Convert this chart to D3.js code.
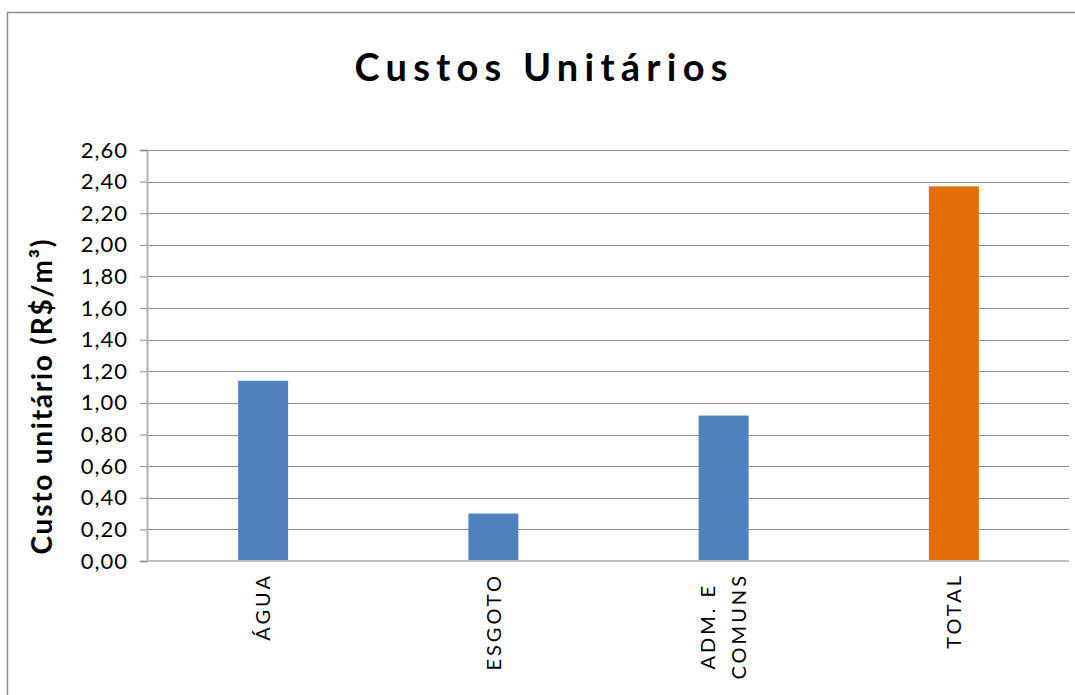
<!DOCTYPE html>
<html>
<head>
<meta charset="utf-8">
<script src="https://cdn.jsdelivr.net/npm/d3@7"></script>
<style>
  body { margin: 0; background: #fff; }
  svg { display: block; }
  text { font-family: Lato, "Open Sans", sans-serif; fill: #000; }
</style>
</head>
<body>
<div id="chart"></div>
<script>
// data
var categories = ['ÁGUA', 'ESGOTO', 'ADM. E\nCOMUNS', 'TOTAL'];
var values = [1.14, 0.30, 0.92, 2.37];
var yTicks = [0, 0.2, 0.4, 0.6, 0.8, 1.0, 1.2, 1.4, 1.6, 1.8, 2.0, 2.2, 2.4, 2.6];
var chartTitle = 'Custos Unitários';
var yTitle = 'Custo unitário (R$/m³)';

var svgWidth = 1075, svgHeight = 695;
var plot = {left: 148, right: 1069, top: 150, bottom: 561};

var ptBR = d3.formatLocale({decimal: ',', thousands: '.', grouping: [3], currency: ['R$', '']});
var fmt = ptBR.format('.2f');

var svg = d3.select('#chart').append('svg')
  .attr('width', svgWidth).attr('height', svgHeight);

// chart area border (runs off the right / bottom edge like the original)
svg.append('rect')
  .attr('x', 7.5).attr('y', 12.5)
  .attr('width', 1200).attr('height', 800)
  .attr('fill', 'none').attr('stroke', '#8c8c8c').attr('stroke-width', 1.5);

var x = d3.scaleBand()
  .domain(categories)
  .range([plot.left, plot.right])
  .paddingInner(0.783).paddingOuter(0.3915);

var y = d3.scaleLinear()
  .domain([0, 2.6])
  .range([plot.bottom, plot.top]);

// gridlines
svg.append('g').selectAll('line')
  .data(yTicks.filter(function(d) { return d > 0; }))
  .enter().append('line')
  .attr('x1', plot.left).attr('x2', plot.right)
  .attr('y1', function(d) { return Math.round(y(d)) + 0.5; })
  .attr('y2', function(d) { return Math.round(y(d)) + 0.5; })
  .attr('stroke', '#8c8c8c').attr('stroke-width', 1);

// y axis
var yAxis = svg.append('g')
  .attr('transform', 'translate(' + (plot.left - 1) + ',0)')
  .call(d3.axisLeft(y).tickValues(yTicks).tickFormat(fmt).tickSize(7).tickPadding(12));
yAxis.select('.domain').attr('stroke', '#b3b3b3').attr('stroke-width', 2);
yAxis.selectAll('.tick line').attr('stroke', '#8c8c8c');
yAxis.selectAll('.tick text')
  .style('font-family', 'Lato, "Open Sans", sans-serif')
  .style('font-size', '22px')
  .style('letter-spacing', '1px')
  .attr('fill', '#000');

// bars
svg.append('g').selectAll('rect')
  .data(values)
  .enter().append('rect')
  .attr('x', function(d, i) { return x(categories[i]); })
  .attr('width', x.bandwidth())
  .attr('y', function(d) { return y(d); })
  .attr('height', function(d) { return y(0) - y(d); })
  .attr('fill', function(d, i) { return categories[i] === 'TOTAL' ? '#e46c0a' : '#4f81bd'; });

// x axis line
svg.append('line')
  .attr('x1', plot.left).attr('x2', plot.right)
  .attr('y1', plot.bottom).attr('y2', plot.bottom)
  .attr('stroke', '#bfbfbf').attr('stroke-width', 2);

// x labels, rotated
var labelTop = 573;
var lab = svg.append('g').selectAll('g')
  .data(categories)
  .enter().append('g')
  .attr('transform', function(d) {
    return 'translate(' + (x(d) + x.bandwidth() / 2) + ',' + labelTop + ') rotate(-90)';
  });
lab.each(function(d) {
  var g = d3.select(this);
  var lines = d.split('\n');
  var texts = g.selectAll('text').data(lines).enter().append('text')
    .attr('text-anchor', 'middle')
    .attr('y', function(l, i) { return (i - (lines.length - 1) / 2) * 31; })
    .attr('dy', '0.36em')
    .style('font-size', '20px')
    .style('letter-spacing', '3px')
    .text(function(l) { return l; });
  var maxLen = 0;
  texts.each(function() { maxLen = Math.max(maxLen, this.getComputedTextLength()); });
  texts.attr('x', -maxLen / 2);
});

// y title
svg.append('text')
  .attr('transform', 'translate(52,397) rotate(-90)')
  .attr('text-anchor', 'middle')
  .attr('textLength', 315).attr('lengthAdjust', 'spacing')
  .style('font-size', '28px').style('font-weight', 'bold')
  .text(yTitle);

// chart title
svg.append('text')
  .attr('x', 541).attr('y', 81)
  .attr('text-anchor', 'middle')
  .attr('textLength', 373).attr('lengthAdjust', 'spacing')
  .style('font-size', '38px').style('font-weight', 'bold')
  .text(chartTitle);
</script>
</body>
</html>
